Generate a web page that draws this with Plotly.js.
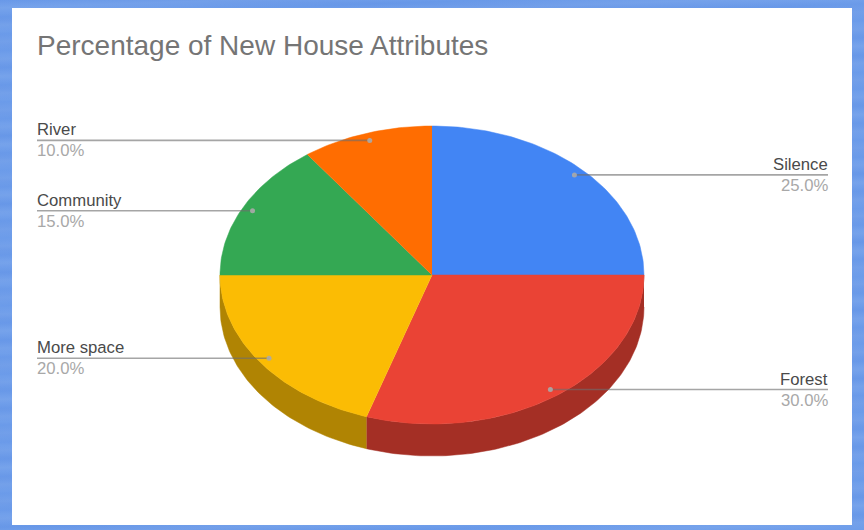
<!DOCTYPE html>
<html>
<head>
<meta charset="utf-8">
<title>Percentage of New House Attributes</title>
<script src="https://cdn.plot.ly/plotly-3.0.1.min.js"></script>
<style>
  html, body { margin: 0; padding: 0; width: 864px; height: 530px; overflow: hidden; }
  body {
    position: relative;
    background-color: #6c9cea;
    background-image:
      repeating-linear-gradient(178deg, rgba(255,255,255,0) 0, rgba(255,255,255,.07) 8px, rgba(255,255,255,0) 17px),
      repeating-linear-gradient(181deg, rgba(40,90,200,0) 0, rgba(40,90,200,.07) 12px, rgba(40,90,200,0) 23px);
  }
  #chart { position: absolute; left: 12px; top: 8px; width: 840px; height: 517px; }
</style>
</head>
<body>
<div id="chart"></div>
<script>
// Shares in clockwise order starting from twelve o'clock
const categories = ['Silence', 'Forest', 'More space', 'Community', 'River'];
const shares = [25, 30, 20, 15, 10];
const topColors = ['#4285f4', '#ea4335', '#fbbc04', '#34a853', '#ff6d01'];
const sideColors = ['#2e5dab', '#a42f25', '#b08403', '#247539', '#b34c01'];
const labelSides = ['right', 'right', 'left', 'left', 'left'];

// Tilted-disc geometry, in axis units
const centerX = 432, centerY = 275, radiusX = 212, radiusY = 149, depth = 32;
const leaderRadius = 0.95, leftEdge = 37, rightEdge = 828;

const total = shares.reduce((a, b) => a + b, 0);
const rimPoint = (turn, scale, drop) => {
  const a = turn * 2 * Math.PI;
  return [centerX + scale * radiusX * Math.sin(a), centerY - scale * radiusY * Math.cos(a) + drop];
};
const arc = (from, to, drop) => {
  const pts = [];
  const steps = Math.max(2, Math.ceil((to - from) * 360));
  for (let i = 0; i <= steps; i++) pts.push(rimPoint(from + (to - from) * i / steps, 1, drop));
  return pts;
};
const polygon = (pts, color, name) => ({
  type: 'scatter', mode: 'lines', fill: 'toself', fillcolor: color,
  x: pts.map(p => p[0]), y: pts.map(p => p[1]),
  line: { color: color, width: 0.5 }, name: name, hoverinfo: 'name', showlegend: false
});

const sideTraces = [], topTraces = [], leaderTraces = [], annotations = [];
let running = 0;
categories.forEach((name, i) => {
  const start = running / total;
  const end = (running + shares[i]) / total;
  running += shares[i];

  // The wall is only visible along the front half of the disc
  const wallFrom = Math.max(start, 0.25), wallTo = Math.min(end, 0.75);
  if (wallTo > wallFrom) {
    const wall = arc(wallFrom, wallTo, 0).concat(arc(wallFrom, wallTo, depth).reverse());
    sideTraces.push(polygon(wall, sideColors[i], name));
  }
  topTraces.push(polygon([[centerX, centerY]].concat(arc(start, end, 0)), topColors[i], name));

  // Leader line from inside the slice out to the label column
  const anchor = rimPoint((start + end) / 2, leaderRadius, 0);
  const edge = labelSides[i] === 'right' ? rightEdge : leftEdge;
  leaderTraces.push({
    type: 'scatter', mode: 'lines', x: [anchor[0], edge], y: [anchor[1], anchor[1]],
    line: { color: 'rgba(110,110,110,0.62)', width: 1.6 }, hoverinfo: 'skip', showlegend: false
  });
  leaderTraces.push({
    type: 'scatter', mode: 'markers', x: [anchor[0]], y: [anchor[1]],
    marker: { color: 'rgba(170,170,170,0.9)', size: 5 }, hoverinfo: 'skip', showlegend: false
  });

  const xanchor = labelSides[i] === 'right' ? 'right' : 'left';
  annotations.push({
    xref: 'x', yref: 'y', x: edge, y: anchor[1] - 1, xanchor, yanchor: 'bottom', showarrow: false,
    text: name, font: { family: 'Liberation Sans, Arial, sans-serif', size: 16.7, color: '#4a4a4a' },
    borderpad: 0, borderwidth: 0
  });
  annotations.push({
    xref: 'x', yref: 'y', x: edge, y: anchor[1] + 1, xanchor, yanchor: 'top', showarrow: false,
    text: shares[i].toFixed(1) + '%', font: { family: 'Liberation Sans, Arial, sans-serif', size: 16.7, color: '#a8a8a8' },
    borderpad: 0, borderwidth: 0
  });
});

const layout = {
  width: 840, height: 517,
  margin: { l: 0, r: 0, t: 0, b: 0 },
  paper_bgcolor: '#ffffff', plot_bgcolor: '#ffffff',
  title: {
    text: 'Percentage of New House Attributes',
    x: 25 / 840, xanchor: 'left', xref: 'paper',
    y: 1 - 37 / 517, yanchor: 'middle', yref: 'container',
    font: { family: 'Liberation Sans, Arial, sans-serif', size: 28, color: '#757575' }
  },
  xaxis: { range: [12, 852], visible: false, fixedrange: true },
  yaxis: { range: [525, 8], visible: false, fixedrange: true },
  showlegend: false,
  annotations
};

Plotly.newPlot('chart', sideTraces.concat(topTraces, leaderTraces), layout, { displayModeBar: false, staticPlot: false });
</script>
</body>
</html>
